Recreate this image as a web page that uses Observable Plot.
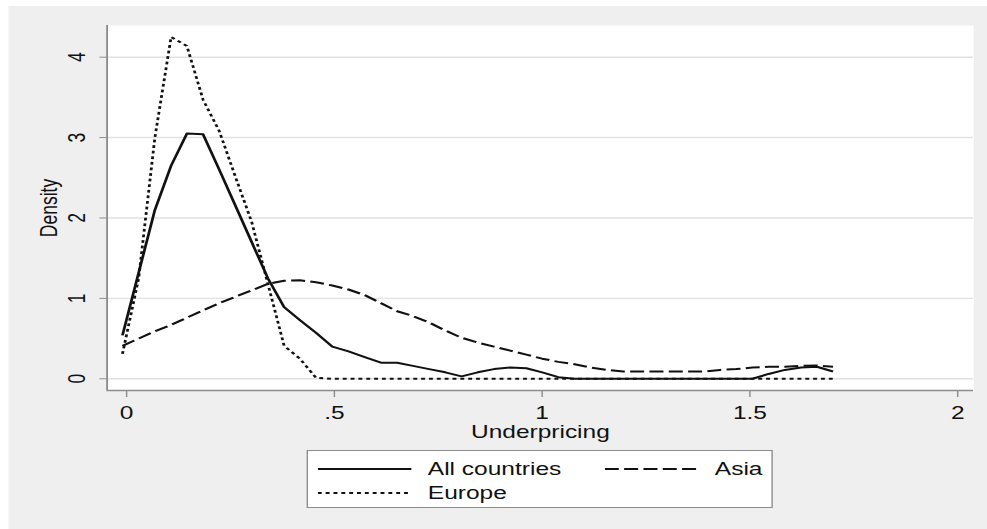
<!DOCTYPE html>
<html><head><meta charset="utf-8">
<script src="https://cdn.jsdelivr.net/npm/d3@7"></script>
<script src="https://cdn.jsdelivr.net/npm/@observablehq/plot@0.6"></script>
<style>
html,body{margin:0;padding:0;background:#fff;}
body{width:987px;height:529px;overflow:hidden;position:relative;font-family:"Liberation Sans",Arial,Helvetica,sans-serif;}
#stage{position:absolute;left:0;top:0;width:705px;height:529px;transform:scaleX(1.4);transform-origin:0 0;}
#bg{position:absolute;left:5.7px;top:6px;right:0;bottom:0;background:#efefef;}
#chart{position:absolute;left:0;top:0;}
#legend{position:absolute;left:218.6px;top:450px;width:333px;height:58px;box-sizing:border-box;background:#fff;border:1px solid #8c8c8c;padding:6px 0 0 7px;display:grid;grid-template-columns:205px auto;grid-auto-rows:24px;font-size:17.5px;color:#111;}
.item{display:flex;align-items:center;white-space:nowrap;}
.item svg{margin-right:12px;flex:none;}
</style></head><body>
<div id="stage"><div id="bg"></div><div id="chart"></div><div id="legend"></div></div>
<script>
// evaluation grid of the density estimates
const xs = [-0.010, 0.029, 0.068, 0.107, 0.145, 0.184, 0.223, 0.262, 0.301, 0.340,
  0.379, 0.417, 0.456, 0.495, 0.534, 0.573, 0.612, 0.651, 0.689, 0.728,
  0.767, 0.806, 0.845, 0.884, 0.923, 0.962, 1.000, 1.039, 1.078, 1.117,
  1.156, 1.195, 1.234, 1.273, 1.311, 1.350, 1.389, 1.428, 1.467, 1.506,
  1.545, 1.584, 1.623, 1.661, 1.700];
const allCountries = [0.54, 1.32, 2.10, 2.65, 3.05, 3.04, 2.60, 2.15, 1.70, 1.25,
  0.89, 0.73, 0.57, 0.40, 0.34, 0.27, 0.20, 0.20, 0.16, 0.12,
  0.08, 0.03, 0.08, 0.12, 0.14, 0.13, 0.08, 0.02, 0, 0,
  0, 0, 0, 0, 0, 0, 0, 0, 0, 0,
  0.06, 0.11, 0.14, 0.15, 0.09];
const asia = [0.41, 0.50, 0.59, 0.67, 0.76, 0.85, 0.94, 1.02, 1.10, 1.18,
  1.22, 1.225, 1.20, 1.16, 1.11, 1.04, 0.94, 0.84, 0.78, 0.70,
  0.60, 0.51, 0.45, 0.40, 0.35, 0.30, 0.25, 0.21, 0.18, 0.14,
  0.11, 0.09, 0.09, 0.09, 0.09, 0.09, 0.09, 0.11, 0.12, 0.14,
  0.15, 0.15, 0.16, 0.165, 0.15];
const europe = [0.31, 1.25, 3.00, 4.25, 4.14, 3.47, 3.08, 2.51, 1.95, 1.18,
  0.41, 0.25, 0.01, 0, 0, 0, 0, 0, 0, 0,
  0, 0, 0, 0, 0, 0, 0, 0, 0, 0,
  0, 0, 0, 0, 0, 0, 0, 0, 0, 0,
  0, 0, 0, 0, 0];

const seriesNames = ["All countries", "Asia", "Europe"];
const seriesValues = [allCountries, asia, europe];
const seriesDash = ["none", "10,3.8", "2.8,2.8"];

const xTicks = [0, 0.5, 1, 1.5, 2];
const xTickLabels = ["0", ".5", "1", "1.5", "2"];
const yTicks = [0, 1, 2, 3, 4];
const yTickLabels = ["0", "1", "2", "3", "4"];
const xDomain = [-0.047, 2.0385];
const yDomain = [-0.146, 4.394];

const fontFamily = '"Liberation Sans", Arial, Helvetica, sans-serif';
const axisGray = "#8c8c8c";

const rows = seriesNames.map((name, k) => xs.map((x, i) => ({x, y: seriesValues[k][i], series: name})));

const chart = Plot.plot({
  width: 705,
  height: 445,
  marginLeft: 76,
  marginRight: 10,
  marginTop: 25,
  marginBottom: 55,
  style: {fontFamily, fontSize: "17.5px", background: "transparent", color: "#111", overflow: "visible"},
  x: {domain: xDomain},
  y: {domain: yDomain},
  marks: [
    Plot.frame({fill: "white", stroke: "none"}),
    Plot.gridY({ticks: yTicks, stroke: "#e2e2e2", strokeOpacity: 1, strokeWidth: 1.4}),
    Plot.ruleX([xDomain[0]], {stroke: axisGray, strokeWidth: 1.3}),
    Plot.ruleY([yDomain[0]], {stroke: axisGray, strokeWidth: 1.6}),
    Plot.axisX({
      ticks: xTicks,
      tickFormat: d => xTickLabels[xTicks.indexOf(d)],
      tickSize: 7, tickPadding: 9,
      stroke: axisGray, fill: "#111",
      label: "Underpricing", labelAnchor: "center", labelOffset: 47, labelArrow: "none"
    }),
    Plot.axisY({
      ticks: yTicks,
      tickFormat: d => yTickLabels[yTicks.indexOf(d)],
      tickSize: 5, tickPadding: 11, tickRotate: -90,
      stroke: axisGray, fill: "#111",
      label: "Density", labelAnchor: "center", labelOffset: 48.5, labelArrow: "none"
    }),
    ...rows.map((data, k) => Plot.line(data, {
      x: "x", y: "y",
      stroke: "#111", strokeWidth: 2,
      strokeDasharray: seriesDash[k] === "none" ? null : seriesDash[k],
      strokeLinejoin: "round", strokeLinecap: "butt"
    }))
  ]
});
document.getElementById("chart").appendChild(chart);

// legend
const legend = document.getElementById("legend");
seriesNames.forEach((name, k) => {
  const item = document.createElement("div");
  item.className = "item";
  const ns = "http://www.w3.org/2000/svg";
  const svg = document.createElementNS(ns, "svg");
  svg.setAttribute("width", 67);
  svg.setAttribute("height", 10);
  const line = document.createElementNS(ns, "line");
  line.setAttribute("x1", 0); line.setAttribute("x2", 67);
  line.setAttribute("y1", 5); line.setAttribute("y2", 5);
  line.setAttribute("stroke", "#111");
  line.setAttribute("stroke-width", 2);
  if (seriesDash[k] !== "none") line.setAttribute("stroke-dasharray", seriesDash[k]);
  svg.appendChild(line);
  const span = document.createElement("span");
  span.textContent = name;
  item.appendChild(svg);
  item.appendChild(span);
  legend.appendChild(item);
});
</script>
</body></html>
